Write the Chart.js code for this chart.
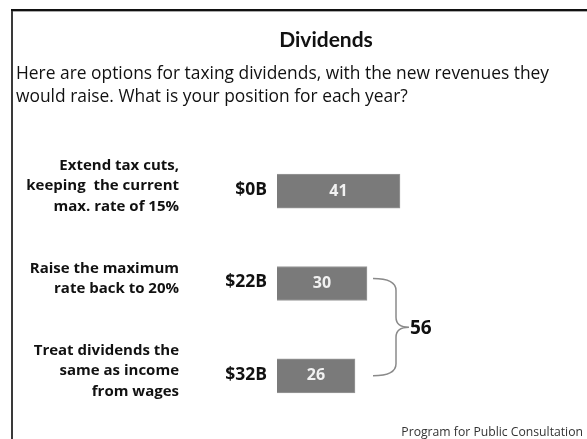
<!DOCTYPE html>
<html>
<head>
<meta charset="utf-8">
<script src="https://cdn.jsdelivr.net/npm/chart.js@4.4.0/dist/chart.umd.min.js"></script>
<style>
  html, body { margin: 0; padding: 0; background: #fff; }
  #wrap { width: 587px; height: 439px; position: relative; }
</style>
</head>
<body>
<div id="wrap"><canvas id="divChart" width="587" height="439"></canvas></div>
<script>
const categories = [
  ['Extend tax cuts,', 'keeping  the current', 'max. rate of 15%'],
  ['Raise the maximum', 'rate back to 20%'],
  ['Treat dividends the', 'same as income', 'from wages']
];
const revenues = ['$0B', '$22B', '$32B'];
const support = [41, 30, 26];
const combined = ['56'];   // bracket total for options 2 and 3

const titleText = 'Dividends';
const subtitleLines = [
  'Here are options for taxing dividends, with the new revenues they',
  'would raise. What is your position for each year?'
];
const sourceText = 'Program for Public Consultation';

const FONT = '"Open Sans", Lato, sans-serif';

// frame, title, subtitle, row labels, values, bracket, source
const extras = {
  id: 'extras',
  afterDraw(chart) {
    const c = chart.ctx;
    const xs = chart.scales.x;
    const ys = chart.scales.y;
    c.save();

    // frame (left and top edges only, rest runs off the picture)
    c.fillStyle = '#3a3a3a';
    c.fillRect(11, 9, 2, 430);
    c.fillStyle = '#111';
    c.fillRect(11, 9, 576, 2);
    c.fillStyle = '#aaa';
    c.fillRect(13, 11, 574, 1);

    // title
    c.fillStyle = '#111';
    c.textAlign = 'center';
    c.textBaseline = 'middle';
    c.font = 'bold 21px Lato, sans-serif';
    c.fillText(titleText, 326, 40);

    // subtitle
    c.textAlign = 'left';
    c.font = '17.4px ' + FONT;
    subtitleLines.forEach((t, i) => c.fillText(t, 16, 74 + i * 23));

    // category labels, right aligned, block centred a little above the bar
    c.textAlign = 'right';
    c.font = 'bold 15px ' + FONT;
    categories.forEach((lines, i) => {
      const yc = ys.getPixelForValue(i) - 5;
      const lh = 20.5;
      const y0 = yc - (lines.length - 1) * lh / 2;
      lines.forEach((t, j) => c.fillText(t, 179, y0 + j * lh));
    });

    // revenue labels left of the bars
    c.font = 'bold 17.5px ' + FONT;
    revenues.forEach((r, i) => {
      c.fillText(r, xs.left - 10, ys.getPixelForValue(i) - 1);
    });

    // values inside bars
    const meta = chart.getDatasetMeta(0);
    c.textAlign = 'center';
    c.fillStyle = '#f2f2f2';
    c.font = 'bold 16px ' + FONT;
    meta.data.forEach((bar, i) => {
      const mid = (bar.x + bar.base) / 2;
      c.fillText(String(support[i]), mid, bar.y);
    });

    // bracket joining bars 2 and 3
    const x0 = xs.getPixelForValue(support[1]) + 6;
    const xv = x0 + 23;
    const xt = x0 + 36;
    const yTop = ys.getPixelForValue(1) - 5;
    const yBot = ys.getPixelForValue(2);
    const yMid = (yTop + yBot) / 2;
    c.strokeStyle = '#8a8a8a';
    c.lineWidth = 1.5;
    c.beginPath();
    c.moveTo(x0, yTop);
    c.quadraticCurveTo(xv, yTop, xv, yTop + 12);
    c.lineTo(xv, yMid - 10);
    c.quadraticCurveTo(xv, yMid, xt, yMid);
    c.quadraticCurveTo(xv, yMid, xv, yMid + 10);
    c.lineTo(xv, yBot - 12);
    c.quadraticCurveTo(xv, yBot, x0, yBot);
    c.stroke();

    c.fillStyle = '#111';
    c.textAlign = 'left';
    c.font = 'bold 19px ' + FONT;
    c.fillText(combined[0], xt + 1, yMid + 1);

    // source
    c.fillStyle = '#333';
    c.textAlign = 'right';
    c.textBaseline = 'alphabetic';
    c.font = '12.2px ' + FONT;
    c.fillText(sourceText, 583, 436);

    c.restore();
  }
};

new Chart(document.getElementById('divChart'), {
  type: 'bar',
  data: {
    labels: categories,
    datasets: [{
      data: support,
      backgroundColor: '#7a7a7a',
      borderColor: '#9a9a9a',
      borderWidth: 1,
      barThickness: 34
    }]
  },
  options: {
    indexAxis: 'y',
    responsive: false,
    animation: false,
    layout: { padding: { top: 145, bottom: 17, right: 10, left: 277 } },
    plugins: {
      legend: { display: false },
      tooltip: { enabled: false }
    },
    scales: {
      x: { display: false, min: 0, max: 100 },
      y: { display: false }
    }
  },
  plugins: [extras]
});
</script>
</body>
</html>
